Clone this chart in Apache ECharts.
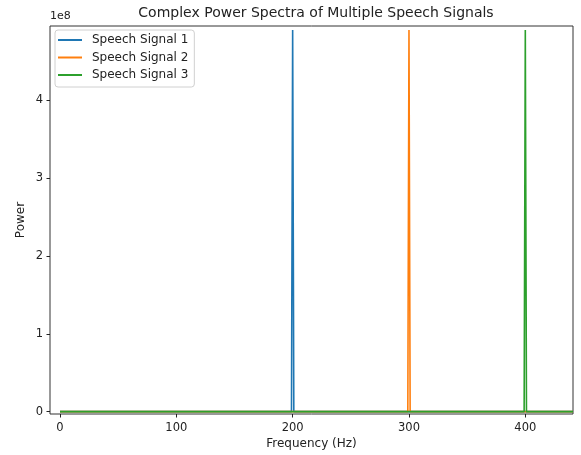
<!DOCTYPE html>
<html>
<head>
<meta charset="utf-8">
<script src="https://cdn.jsdelivr.net/npm/echarts@6/dist/echarts.min.js"></script>
<style>
  html, body { margin: 0; padding: 0; background: #fff; }
  #chart { width: 581px; height: 455px; }
</style>
</head>
<body>
<div id="chart"></div>
<script>
// Spectrum samples (frequency in Hz, power) for each signal: flat floor with a single narrow peak.
const freq1 = [0, 199, 200, 201, 441];
const power1 = [0, 0, 4.9e8, 0, 0];
const freq2 = [0, 299, 300, 301, 441];
const power2 = [0, 0, 4.9e8, 0, 0];
const freq3 = [0, 399, 400, 401, 441];
const power3 = [0, 0, 4.9e8, 0, 0];

const seriesNames = ['Speech Signal 1', 'Speech Signal 2', 'Speech Signal 3'];
const xTicks = [0, 100, 200, 300, 400];
const yTicks = [0, 1e8, 2e8, 3e8, 4e8];

const colors = ['#1f77b4', '#ff7f0e', '#2ca02c'];
const font = 'DejaVu Sans';

function pairs(xs, ys) {
  return xs.map((x, i) => [x, ys[i]]);
}

const chart = echarts.init(document.getElementById('chart'), null, { renderer: 'canvas' });

chart.setOption({
  animation: false,
  backgroundColor: '#fff',
  color: colors,
  title: {
    text: 'Complex Power Spectra of Multiple Speech Signals',
    left: 311,
    textAlign: 'center',
    top: 1,
    textStyle: { fontFamily: font, fontSize: 14, fontWeight: 'normal', color: '#222' }
  },
  grid: {
    left: 50, right: 8, top: 26, bottom: 40,
    show: true, borderColor: '#333', borderWidth: 1, backgroundColor: 'transparent'
  },
  legend: {
    left: 55, top: 30,
    orient: 'vertical',
    data: seriesNames,
    icon: 'rect',
    itemWidth: 24, itemHeight: 2,
    itemGap: 5.5,
    padding: [4, 6, 6, 3],
    borderColor: '#d0d0d0', borderWidth: 1, borderRadius: 3,
    backgroundColor: 'rgba(255,255,255,0.8)',
    textStyle: { fontFamily: font, fontSize: 12, color: '#222', padding: [0, 0, 0, 5] }
  },
  graphic: [{
    type: 'text',
    left: 50, top: 11,
    style: { text: '1e8', font: '11px "DejaVu Sans"', fill: '#222' }
  }],
  xAxis: {
    type: 'value',
    min: -8.6, max: 441,
    name: 'Frequency (Hz)',
    nameLocation: 'middle',
    nameGap: 24,
    nameMoveOverlap: false,
    nameTextStyle: { fontFamily: font, fontSize: 12, color: '#222' },
    axisLine: { show: false, onZero: false },
    splitLine: { show: false },
    axisTick: { show: true, inside: false, length: 3.5, lineStyle: { color: '#222' }, customValues: xTicks },
    axisLabel: { fontFamily: font, fontSize: 11.5, color: '#222', margin: 8, customValues: xTicks }
  },
  yAxis: {
    type: 'value',
    min: -0.03e8, max: 4.95e8,
    name: 'Power',
    nameLocation: 'middle',
    nameGap: 23,
    nameMoveOverlap: false,
    nameTextStyle: { fontFamily: font, fontSize: 12, color: '#222' },
    axisLine: { show: false, onZero: false },
    splitLine: { show: false },
    axisTick: { show: true, inside: false, length: 3.5, lineStyle: { color: '#222' }, customValues: yTicks },
    axisLabel: {
      fontFamily: font, fontSize: 11.5, color: '#222', margin: 7, customValues: yTicks,
      formatter: v => String(Math.round(v / 1e8))
    }
  },
  series: [
    { name: seriesNames[0], type: 'line', data: pairs(freq1, power1) },
    { name: seriesNames[1], type: 'line', data: pairs(freq2, power2) },
    { name: seriesNames[2], type: 'line', data: pairs(freq3, power3) }
  ].map(s => Object.assign(s, {
    showSymbol: false, symbol: 'none', clip: true,
    lineStyle: { width: 1.6 }
  }))
});
</script>
</body>
</html>
